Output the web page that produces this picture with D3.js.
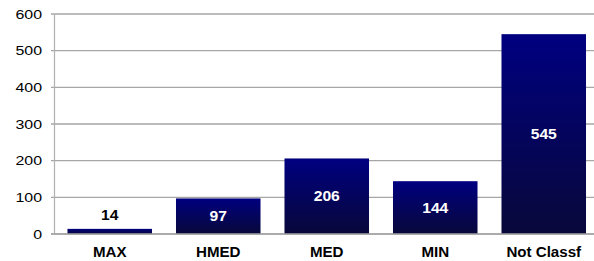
<!DOCTYPE html>
<html>
<head>
<meta charset="utf-8">
<script src="https://cdn.jsdelivr.net/npm/d3@7"></script>
<style>
  body { margin: 0; background: #fff; }
  svg { display: block; font-family: "Liberation Sans", Arial, sans-serif; }
</style>
</head>
<body>
<div id="chart"></div>
<script>
// chart data
const categories = ["MAX", "HMED", "MED", "MIN", "Not Classf"];
const counts = [14, 97, 206, 144, 545];
const yTicks = [0, 100, 200, 300, 400, 500, 600];

const width = 594;
const height = 261;
const margin = { top: 14, right: 0, bottom: 27, left: 54 };

const svg = d3.select("#chart")
    .append("svg")
    .attr("width", width)
    .attr("height", height);

// gradient for the bars, navy at the top to near black at the bottom
const grad = svg.append("defs").append("linearGradient")
    .attr("id", "barGrad")
    .attr("x1", 0).attr("y1", 0)
    .attr("x2", 0).attr("y2", 1);
grad.append("stop").attr("offset", "0%").attr("stop-color", "#000080");
grad.append("stop").attr("offset", "100%").attr("stop-color", "#08083a");

// the bands run a little past the right edge, like the original slide
const x = d3.scaleBand()
    .domain(categories)
    .range([margin.left + 1.5, margin.left + 1.5 + 5 * 108.5])
    .paddingInner(0.221)
    .paddingOuter(0.1105);

const y = d3.scaleLinear()
    .domain([0, 600])
    .range([height - margin.bottom, margin.top]);

// the text in the original is a bit wider than the font, stretch it
function stretched(sel, sx) {
    return sel.attr("transform", function(d, i) {
        const px = +this.getAttribute("data-x");
        const py = +this.getAttribute("data-y");
        return `translate(${px},${py}) scale(${sx},1)`;
    });
}

// gridlines
svg.append("g")
    .selectAll("line")
    .data(yTicks)
    .enter().append("line")
    .attr("x1", margin.left - 3)
    .attr("x2", width)
    .attr("y1", d => y(d))
    .attr("y2", d => y(d))
    .attr("stroke", "#a6a6a6")
    .attr("stroke-width", 1.4);

// left axis line
svg.append("line")
    .attr("x1", margin.left + 0.5)
    .attr("x2", margin.left + 0.5)
    .attr("y1", y(600))
    .attr("y2", y(0))
    .attr("stroke", "#b0b0b0")
    .attr("stroke-width", 1.2);

// y tick labels
svg.append("g")
    .selectAll("text")
    .data(yTicks)
    .enter().append("text")
    .attr("data-x", margin.left - 12)
    .attr("data-y", d => y(d))
    .attr("dy", "0.35em")
    .attr("text-anchor", "end")
    .attr("font-size", 13.5)
    .attr("fill", "#000")
    .text(d => d)
    .call(stretched, 1.18);

// bars
svg.append("g")
    .selectAll("rect")
    .data(counts)
    .enter().append("rect")
    .attr("x", (d, i) => x(categories[i]))
    .attr("y", d => y(d))
    .attr("width", x.bandwidth())
    .attr("height", d => y(0) - y(d))
    .attr("fill", "url(#barGrad)");

// bottom axis line
svg.append("line")
    .attr("x1", margin.left - 3)
    .attr("x2", width)
    .attr("y1", y(0))
    .attr("y2", y(0))
    .attr("stroke", "#a6a6a6")
    .attr("stroke-width", 1.4);

// value labels: inside the bar when it fits, above it otherwise
svg.append("g")
    .selectAll("text")
    .data(counts)
    .enter().append("text")
    .attr("data-x", (d, i) => x(categories[i]) + x.bandwidth() / 2)
    .attr("data-y", d => (y(0) - y(d) > 30) ? (y(d) + y(0)) / 2 : y(d) - 14)
    .attr("dy", "0.35em")
    .attr("text-anchor", "middle")
    .attr("font-size", 14)
    .attr("font-weight", "bold")
    .attr("fill", d => (y(0) - y(d) > 30) ? "#fff" : "#000")
    .text(d => d)
    .call(stretched, 1.12);

// category labels
svg.append("g")
    .selectAll("text")
    .data(categories)
    .enter().append("text")
    .attr("data-x", d => x(d) + x.bandwidth() / 2)
    .attr("data-y", y(0) + 23)
    .attr("text-anchor", "middle")
    .attr("font-size", 14)
    .attr("font-weight", "bold")
    .attr("fill", "#000")
    .text(d => d)
    .call(stretched, 1.08);
</script>
</body>
</html>
